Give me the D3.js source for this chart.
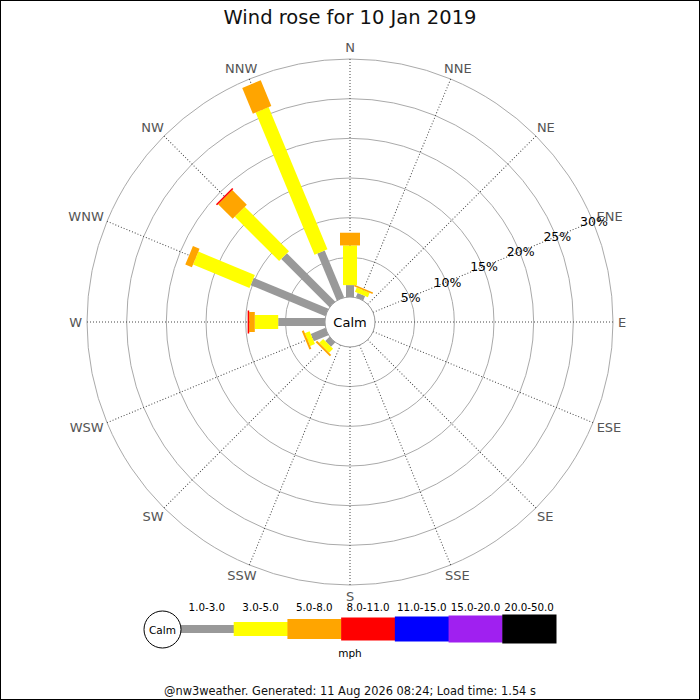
<!DOCTYPE html>
<html lang="en">
  <head>
    <meta charset="utf-8">
    <title>Wind rose</title>
    <script type="text/javascript" src="https://d3js.org/d3.v7.min.js"></script>
    <style>
      body { margin: 0; background: #fff; }
      svg { display: block; font-family: 'DejaVu Sans', sans-serif; }
    </style>
  </head>
  <body>
    <div id="viz"></div>
    <script type="text/javascript">

    // chart data (percent of time per direction, per speed band)
    var directions = ["N","NNE","NE","ENE","E","ESE","SE","SSE","S","SSW","SW","WSW","W","WNW","NW","NNW"];
    var ranges = ["1.0-3.0","3.0-5.0","5.0-8.0","8.0-11.0","11.0-15.0","15.0-20.0","20.0-50.0"];
    var band1 = [1.5, 0.6, 0, 0, 0, 0, 0, 0, 0, 0, 0.75, 2.0, 5.9, 10.2, 8.6, 6.4];
    var band2 = [5.0, 0.6, 0, 0, 0, 0, 0, 0, 0, 0, 0.7, 0.65, 2.95, 7.7, 7.9, 19.4];
    var band3 = [1.6, 0.2, 0, 0, 0, 0, 0, 0, 0, 0, 0.25, 0.25, 0.7, 0.9, 2.6, 3.5];
    var band4 = [0, 0, 0, 0, 0, 0, 0, 0, 0, 0, 0, 0, 0.2, 0, 0.2, 0];
    var ringTicks = [5, 10, 15, 20, 25, 30];

    var bands = [band1, band2, band3, band4];
    var colors = ["#999999", "#ffff00", "#ffa500", "#ff0000", "#0000ff", "#a020f0", "#000000"];
    var widths = [8, 14, 20, 23, 25, 27, 29];

    var W = 700, H = 700, cx = 350, cy = 322, calmR = 25;

    var svg = d3.select("#viz").append("svg")
      .attr("width", W).attr("height", H);

    svg.append("rect").attr("x", 0.5).attr("y", 0.5)
      .attr("width", W - 1).attr("height", H - 1)
      .attr("fill", "#fff").attr("stroke", "#000");

    svg.append("text").attr("x", cx).attr("y", 24)
      .attr("text-anchor", "middle").attr("font-size", "19.5px").attr("fill", "#111")
      .text("Wind rose for 10 Jan 2019");

    var r = d3.scaleLinear().domain([0, 30]).range([calmR, 263]);
    var ang = d3.scaleLinear().domain([0, directions.length]).range([0, 360]);
    function rad(i) { return ang(i) * Math.PI / 180; }

    var plot = svg.append("g").attr("transform", "translate(" + cx + "," + cy + ")");

    // range circles
    plot.selectAll(".ring").data(ringTicks).enter().append("circle")
      .attr("r", function(d) { return r(d); })
      .attr("fill", "none").attr("stroke", "#aaa").attr("stroke-width", 1);

    // spokes
    plot.selectAll(".spoke").data(directions).enter().append("line")
      .attr("x1", 0).attr("y1", -calmR).attr("x2", 0).attr("y2", -r(30))
      .attr("transform", function(d, i) { return "rotate(" + ang(i) + ")"; })
      .attr("stroke", "#444").attr("stroke-width", 1).attr("stroke-dasharray", "1,2");

    // direction labels: box pushed outward so it just clears the outer ring
    var labR = 268, labH = 13;
    plot.selectAll(".dir").data(directions).enter().append("text")
      .attr("text-anchor", "middle").attr("dominant-baseline", "central")
      .attr("font-size", "13px").attr("fill", "#555")
      .text(function(d) { return d; })
      .each(function(d, i) {
        var tw = this.getComputedTextLength();
        var s = Math.sin(rad(i)), c = Math.cos(rad(i));
        d3.select(this)
          .attr("x", labR * s + tw / 2 * s)
          .attr("y", -labR * c - labH / 2 * c);
      });

    // bars
    directions.forEach(function(dir, i) {
      var cum = 0;
      var g = plot.append("g").attr("transform", "rotate(" + ang(i) + ")");
      bands.forEach(function(b, k) {
        var v = b[i];
        if (v > 0) {
          var r0 = r(cum), r1 = r(cum + v);
          g.append("rect")
            .attr("x", -widths[k] / 2).attr("y", -r1)
            .attr("width", widths[k]).attr("height", r1 - r0)
            .attr("fill", colors[k]);
        }
        cum += v;
      });
    });

    // calm circle
    plot.append("circle").attr("r", calmR).attr("fill", "#fff").attr("stroke", "#999");
    plot.append("text").attr("y", 0).attr("text-anchor", "middle").attr("dominant-baseline", "central")
      .attr("font-size", "13px").attr("fill", "#000").text("Calm");

    // ring labels along ENE
    var la = rad(3);
    plot.selectAll(".rl").data(ringTicks).enter().append("text")
      .attr("x", function(d) { return r(d) * Math.sin(la) + 1; })
      .attr("y", function(d) { return -r(d) * Math.cos(la); })
      .attr("text-anchor", "middle").attr("dominant-baseline", "central")
      .attr("font-size", "12.5px").attr("fill", "#000")
      .text(function(d) { return d + "%"; });

    // legend
    var lx = d3.scaleBand().domain(ranges).range([180, 556]);
    var ly = 629;
    var leg = svg.append("g");
    leg.selectAll(".lb").data(ranges).enter().append("rect")
      .attr("x", function(d) { return lx(d); })
      .attr("y", function(d, k) { return ly - widths[k] / 2; })
      .attr("width", lx.bandwidth() + 0.5)
      .attr("height", function(d, k) { return widths[k]; })
      .attr("fill", function(d, k) { return colors[k]; });
    leg.selectAll(".lt").data(ranges).enter().append("text")
      .attr("x", function(d) { return lx(d) + lx.bandwidth() / 2; })
      .attr("y", 611)
      .attr("text-anchor", "middle").attr("font-size", "10.3px").attr("fill", "#000")
      .text(function(d) { return d; });
    leg.append("circle").attr("cx", 162.5).attr("cy", ly + 0.5).attr("r", 18.5)
      .attr("fill", "#fff").attr("stroke", "#000");
    leg.append("text").attr("x", 162.5).attr("y", ly + 0.5)
      .attr("text-anchor", "middle").attr("dominant-baseline", "central")
      .attr("font-size", "10.5px").text("Calm");
    leg.append("text").attr("x", 350).attr("y", 657)
      .attr("text-anchor", "middle").attr("font-size", "10.5px").text("mph");

    svg.append("text").attr("x", 350).attr("y", 695)
      .attr("text-anchor", "middle").attr("font-size", "11.4px").attr("fill", "#111")
      .text("@nw3weather. Generated: 11 Aug 2026 08:24; Load time: 1.54 s");

    </script>
  </body>
</html>
